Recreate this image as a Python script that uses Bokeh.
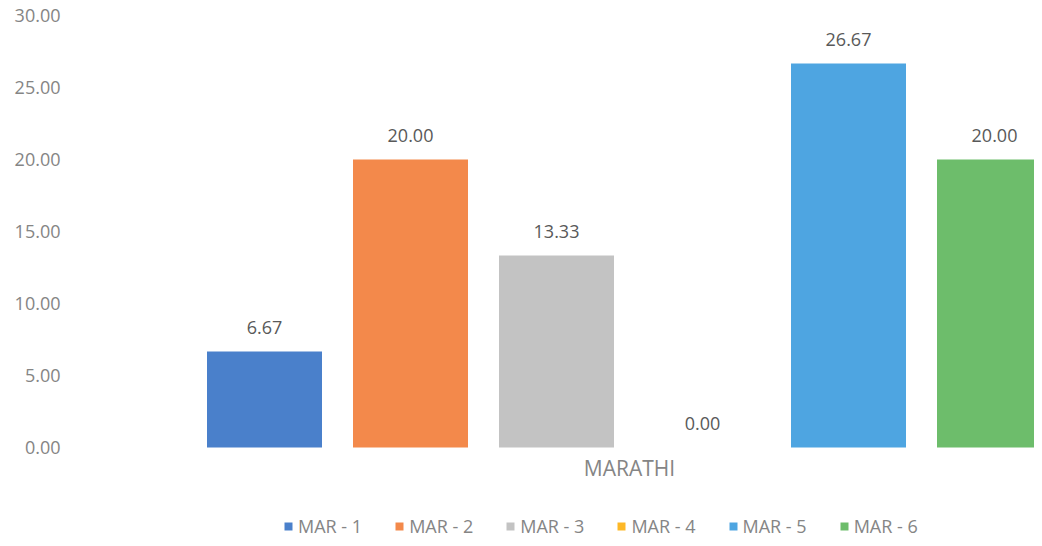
from bokeh.plotting import figure
from bokeh.models import Range1d, FixedTicker, ColumnDataSource, Legend, LegendItem, PrintfTickFormatter
from bokeh.embed import file_html
from bokeh.resources import INLINE
from bokeh.core.properties import value

# ---- data ----
categories = ["MARATHI"]
series = ["MAR - 1", "MAR - 2", "MAR - 3", "MAR - 4", "MAR - 5", "MAR - 6"]
values = [6.67, 20.00, 13.33, 0.00, 26.67, 20.00]
colors = ["#4a80cb", "#f3894b", "#c3c3c3", "#fdb827", "#4ea5e1", "#6dbd6b"]
y_ticks = [0, 5, 10, 15, 20, 25, 30]

# ---- layout (screen-like units along x, category centred at 0) ----
SLOT = 146
BAR_W = 115
n = len(series)
offsets = [(i - (n - 1) / 2) * SLOT for i in range(n)]

FONT = value("Open Sans")
DARK = "#595959"
LIGHT = "#858585"

p = figure(width=1034, height=538,
           x_range=Range1d(-557, 405), y_range=Range1d(-6.32, 30.49),
           x_axis_location=None,
           output_backend="svg", toolbar_location=None,
           min_border_left=72, min_border_right=0, min_border_top=8, min_border_bottom=0)
p.outline_line_color = None
p.xgrid.visible = False
p.ygrid.visible = False
p.background_fill_color = "white"

items = []
for i, name in enumerate(series):
    src = ColumnDataSource(dict(x=[offsets[i]], top=[values[i]], lab=[f"{values[i]:.2f}"]))
    r = p.vbar(x="x", top="top", bottom=0, width=BAR_W, source=src,
               fill_color=colors[i], line_color=None)
    p.text(x="x", y="top", text="lab", source=src, y_offset=-24,
           text_align="center", text_baseline="alphabetic",
           text_font=FONT, text_font_size="18px", text_color=DARK)
    items.append(LegendItem(label=name, renderers=[r]))

# category label under the group (category axis label)
cat_src = ColumnDataSource(dict(x=[0] * len(categories), y=[0] * len(categories), t=categories))
p.text(x="x", y="y", text="t", source=cat_src, y_offset=6,
       text_align="center", text_baseline="top",
       text_font=FONT, text_font_size="21px", text_color=LIGHT)

# y axis
ya = p.yaxis[0]
ya.ticker = FixedTicker(ticks=y_ticks)
ya.formatter = PrintfTickFormatter(format="%.2f")
ya.axis_line_color = None
ya.major_tick_line_color = None
ya.minor_tick_line_color = None
ya.major_tick_out = 0
ya.major_label_standoff = 12
ya.major_label_text_font = "Open Sans"
ya.major_label_text_font_size = "18px"
ya.major_label_text_color = LIGHT

legend = Legend(items=items, orientation="horizontal", location=(211, 0),
                glyph_width=10, glyph_height=10, label_standoff=5, spacing=32,
                padding=0, margin=0, border_line_color=None, background_fill_alpha=0,
                label_text_font="Open Sans", label_text_font_size="18px",
                label_text_color=LIGHT)
p.add_layout(legend, "center")

open("out.html", "w").write(file_html(p, INLINE))
